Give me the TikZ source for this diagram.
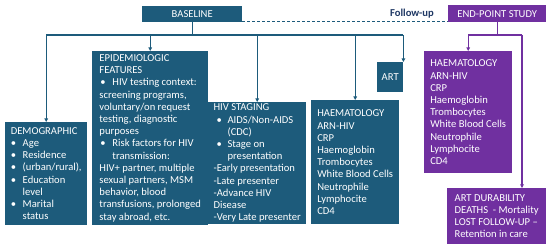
\documentclass[tikz,border=0pt]{standalone}
\usepackage{fontspec}
\setmainfont{Carlito}
\usetikzlibrary{positioning, arrows.meta}
\definecolor{baseblue}{HTML}{1D5B7B}
\definecolor{endpurple}{HTML}{7030A0}
\definecolor{follownavy}{HTML}{1F3864}

\begin{document}
\begin{tikzpicture}[
  x=1pt,
  y=-1pt,
  box/.style={
    rectangle,
    fill=baseblue,
    text=white,
    align=left,
    anchor=north west,
    inner sep=0pt,
    font=\fontsize{10.6}{12.2}\selectfont
  },
  endbox/.style={box, fill=endpurple},
  followlabel/.style={
    text=follownavy,
    font=\fontsize{10.6}{12.2}\selectfont\bfseries
  },
  blueline/.style={draw=baseblue, line width=1.2pt},
  purpleline/.style={draw=endpurple, line width=1.2pt},
  >={Triangle[length=3.5pt, width=3.5pt]}
]

\useasboundingbox (0,0) rectangle (550,251);

% Baseline
\node[box, minimum width=100pt, minimum height=16pt] (baseline) at (142,6) {BASELINE};

% End-point study
\node[endbox, minimum width=98pt, minimum height=17pt] (endpoint) at (448,5) {END-POINT STUDY};

% Follow-up
\node[followlabel] (followup) at (412,14) {Follow-up};

% Demographic
\node[box, minimum width=82pt, minimum height=103pt] (demographic) at (5,122) {
  DEMOGRAPHIC\\
  \makebox[12pt][l]{•}Age\\
  \makebox[12pt][l]{•}Residence\\
  \makebox[12pt][l]{•}(urban/rural),\\
  \makebox[12pt][l]{•}Education\\
  \hspace*{12pt}level\\
  \makebox[12pt][l]{•}Marital\\
  \hspace*{12pt}status
};

% Epidemiologic features
\node[box, minimum width=116pt, minimum height=174pt] (epidem) at (92,51) {
  EPIDEMIOLOGIC\\
  FEATURES\\
  \hspace*{1pt}\makebox[12pt][l]{•}HIV testing context:\\
  screening programs,\\
  voluntary/on request\\
  testing, diagnostic\\
  purposes\\
  \hspace*{1pt}\makebox[12pt][l]{•}Risk factors for HIV\\
  \hspace*{13pt}transmission:\\
  HIV+ partner, multiple\\
  sexual partners, MSM\\
  behavior, blood\\
  transfusions, prolonged\\
  stay abroad, etc.
};

% HIV staging
\node[box, minimum width=98pt, minimum height=122pt] (staging) at (208,102) {
  HIV STAGING\\
  \hspace*{3pt}\makebox[11pt][l]{•}AIDS/Non-AIDS\\
  \hspace*{14pt}(CDC)\\
  \hspace*{3pt}\makebox[11pt][l]{•}Stage on\\
  \hspace*{14pt}presentation\\
  -Early presentation\\
  -Late presenter\\
  -Advance HIV\\
  Disease\\
  -Very Late presenter
};

% Haematology (baseline)
\node[box, minimum width=88pt, minimum height=124pt] (haemBase) at (311,100) {
  HAEMATOLOGY\\
  ARN-HIV\\
  CRP\\
  Haemoglobin\\
  Trombocytes\\
  White Blood Cells\\
  Neutrophile\\
  Lymphocite\\
  CD4
};

% ART
\node[box, minimum width=26pt, minimum height=30pt] (art) at (377,62) {ART};

% Haematology (end-point)
\node[endbox, minimum width=88pt, minimum height=122pt] (haemEnd) at (424,51) {
  HAEMATOLOGY\\
  ARN-HIV\\
  CRP\\
  Haemoglobin\\
  Trombocytes\\
  White Blood Cells\\
  Neutrophile\\
  Lymphocite\\
  CD4
};

% ART durability
\node[endbox, minimum width=99pt, minimum height=56pt] (durability) at (447,188) {
  ART DURABILITY\\
  DEATHS \ - Mortality\\
  LOST FOLLOW-UP --\\
  Retention in care
};

% Baseline connectors
\coordinate (bus) at (0,35);
\draw[blueline] (baseline.south) -- (baseline.south |- bus);
\draw[blueline] (bus -| demographic.north) -- (bus -| art.north east);
\draw[blueline, ->] (bus -| demographic.north) -- (demographic.north);
\draw[blueline, ->] (bus -| epidem.north) -- (epidem.north);
\draw[blueline, ->] (bus -| staging.north) -- (staging.north);
\draw[blueline, ->] (bus -| haemBase.north) -- (haemBase.north);
\draw[blueline, ->] (bus -| art.north east) -- (art.north east);

% Follow-up link
\draw[draw=baseblue, line width=0.8pt, dash pattern=on 3pt off 2pt]
  ([yshift=1pt]baseline.south east) -- ([yshift=1pt]endpoint.south west);

% End-point connectors
\coordinate (pbusRight) at (522,35);
\draw[purpleline] (endpoint.south) -- (endpoint.south |- bus);
\draw[purpleline] (bus -| haemEnd.north) -- (pbusRight);
\draw[purpleline, ->] (bus -| haemEnd.north) -- (haemEnd.north);
\draw[purpleline, ->] (pbusRight) -- (pbusRight |- durability.north);

\end{tikzpicture}
\end{document}
